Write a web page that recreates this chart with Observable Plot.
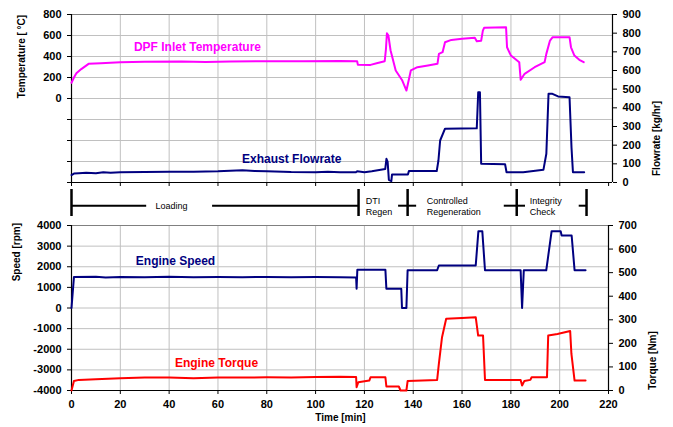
<!DOCTYPE html>
<html><head><meta charset="utf-8">
<script src="https://cdn.jsdelivr.net/npm/d3@7"></script>
<script src="https://cdn.jsdelivr.net/npm/@observablehq/plot@0.6"></script>
<style>
body{margin:0;background:#fff;font-family:"Liberation Sans",Arial,sans-serif;}
#chart{position:relative;width:673px;height:427px;overflow:hidden;background:#fff;}
#chart svg{position:absolute;left:0;overflow:visible;}
</style></head><body><div id="chart"></div>
<script>
// ---- data ----
const timeTicks = [0,20,40,60,80,100,120,140,160,180,200,220];
const tempTicks = [-800,-600,-400,-200,0,200,400,600,800];
const flowTicks = [0,100,200,300,400,500,600,700,800,900];
const speedTicks = [-4000,-3000,-2000,-1000,0,1000,2000,3000,4000];
const torqueTicks = [0,100,200,300,400,500,600,700];

// [time min, °C]
const dpfTemp = [[0,150],[1,200],[2,240],[4,280],[7,330],[12,335],[20,345],[30,350],[45,352],[55,348],[65,352],[80,355],[95,355],[110,358],[117,355],[117.3,322],[122.5,320],[125,335],[128.3,355],[128.8,470],[129.2,622],[129.8,600],[130.7,457],[132.8,267],[135.5,171],[137.2,76],[139,267],[141.7,298],[146,315],[149.9,330],[150.5,425],[152,441],[153,536],[155.6,558],[160,570],[165.2,578],[166,545],[167.8,550],[168.5,647],[169,673],[178,679],[178.4,488],[180,409],[183.4,346],[184,178],[185.6,235],[189.7,298],[193.8,346],[194.5,425],[196,552],[197.1,584],[204,584],[204.6,488],[206,409],[208,368],[209.8,346]];
// [time min, kg/hr]
const exhaustFlow = [[0,40],[1,48],[3,50],[6,52],[10,50],[13,55],[16,52],[20,55],[30,56],[40,57],[50,58],[60,60],[65,63],[70,65],[75,62],[80,60],[90,56],[100,55],[105,57],[110,55],[116.5,55],[117,60],[120,55],[123,60],[128.5,72],[129,127],[129.5,110],[130,14],[131,7],[131.3,43],[137.8,43],[138.2,61],[149.6,61],[150.3,118],[151,225],[153,288],[166,290],[166.6,484],[167.3,484],[167.8,100],[177.6,98],[178.2,55],[185,55],[193.3,68],[194.5,154],[195.4,475],[197,475],[199.3,461],[204,457],[204.8,189],[205.4,55],[210,55]];
// [time min, rpm]
const engineSpeed = [[0,0],[1,1500],[10,1510],[14,1480],[20,1500],[30,1490],[40,1510],[50,1495],[60,1500],[70,1490],[80,1505],[90,1495],[100,1500],[110,1490],[116.6,1480],[116.8,930],[117.1,1850],[128.6,1850],[129,930],[135.1,930],[135.4,0],[137.2,0],[137.7,1830],[149.8,1830],[150.5,2060],[165.6,2060],[166.7,3725],[168.3,3725],[169.4,1830],[184,1830],[184.6,0],[185.3,1830],[194.5,1830],[196.7,3725],[200.4,3725],[200.8,3516],[204.9,3516],[206.1,1830],[210.6,1830]];
// [time min, Nm]
const engineTorque = [[0,0],[1,40],[3,45],[10,48],[20,52],[30,55],[40,55],[50,52],[60,55],[70,55],[80,56],[90,55],[100,57],[110,58],[116.6,57],[116.8,14],[117.5,35],[122,42],[122.5,56],[128.6,56],[129,17],[134.1,17],[134.8,0],[137.2,0],[137.7,40],[149.8,45],[150.5,113],[151.8,226],[153.5,304],[160,308],[165.6,311],[166.6,233],[168.6,233],[169.4,45],[184,45],[184.6,21],[185.5,40],[188,45],[188.5,56],[194.8,56],[195.3,233],[199.1,240],[204.3,252],[204.8,156],[206.1,42],[210.6,42]];

// test phases
const phaseBounds = [0,117.6,137.7,182.4,211];
const phaseLines = [[0.4,30.8],[57.8,117.6],[134,141.4],[177.3,186],[208,211]];
const phaseLabels = [
  {t:41, text:"Loading", anchor:"middle"},
  {t:120.5, text:"DTI\nRegen", anchor:"start"},
  {t:145.5, text:"Controlled\nRegeneration", anchor:"start"},
  {t:187.7, text:"Integrity\nCheck", anchor:"start"}
];

// ---- helpers ----
const flowToTemp = f => -800 + f*1600/900;
const tempToFlow = v => Math.round((v+800)*900/1600);
const torqueToSpeed = q => -4000 + q*8000/700;
const speedToTorque = v => Math.round((v+4000)*700/8000);

const FONT = '"Liberation Sans", Arial, sans-serif';
const baseStyle = {fontFamily:FONT, fontSize:"11px", fontWeight:"bold", color:"#000", background:"transparent", overflow:"visible"};
const GRID = "#c0c0c0";
const chart = document.getElementById("chart");
function place(el, top){ el.style.top = top + "px"; chart.appendChild(el); }
const title = (s, anchor, yv, dx) => Plot.text([s], {text:d=>d, frameAnchor:anchor, y:()=>yv, dx, rotate:-90, textAnchor:"middle", lineAnchor:"middle", fontSize:10, fontWeight:"bold", fill:"#000"});
const seriesLabel = (s, xv, yv, color) => Plot.text([s], {text:d=>d, x:()=>xv, y:()=>yv, fill:color, fontSize:12, fontWeight:"bold"});

// ---- top panel ----
const topChart = Plot.plot({
  width:673, height:188, marginLeft:71, marginRight:61, marginTop:14, marginBottom:6,
  x:{domain:[0,221.6]}, y:{domain:[-800,800]},
  style:baseStyle,
  marks:[
    Plot.gridX(timeTicks.slice(1,11), {stroke:GRID, strokeOpacity:1}),
    Plot.gridY(tempTicks.slice(1,8), {stroke:GRID, strokeOpacity:1}),
    Plot.ruleY([800], {stroke:"#808080"}),
    Plot.axisX(timeTicks, {tickFormat:()=>"", tickSize:4, label:null}),
    Plot.axisY(tempTicks, {anchor:"left", tickFormat:d=> d>=0 ? String(d) : "", tickSize:4, tickPadding:6, label:null}),
    Plot.axisY(flowTicks.map(flowToTemp), {anchor:"right", tickFormat:d=>String(tempToFlow(d)), tickSize:4, tickPadding:6, label:null}),
    Plot.ruleY([-800], {stroke:"#000", strokeWidth:1.2}),
    Plot.ruleX([0], {stroke:"#000", strokeWidth:1.2}),
    Plot.ruleX([221.6], {stroke:"#000", strokeWidth:1.2}),
    Plot.line(dpfTemp, {x:d=>d[0], y:d=>d[1], stroke:"#ff00ff", strokeWidth:2}),
    Plot.line(exhaustFlow, {x:d=>d[0], y:d=>flowToTemp(d[1]), stroke:"#000080", strokeWidth:2}),
    seriesLabel("DPF Inlet Temperature", 51.6, 490, "#ff00ff"),
    seriesLabel("Exhaust Flowrate", 90.2, -581, "#000080"),
    title("Temperature [ °C]", "left", 400, -50),
    title("Flowrate [kg/hr]", "right", -381, 44)
  ]
});
place(topChart, 0);

// ---- phase annotation band ----
const band = Plot.plot({
  width:673, height:32, marginLeft:71, marginRight:65, marginTop:1, marginBottom:4,
  x:{domain:[0,220], axis:null}, y:{domain:[0,1], axis:null},
  style:{...baseStyle, fontWeight:"normal", fontSize:"9px"},
  marks:[
    Plot.ruleX(phaseBounds, {stroke:"#000", strokeWidth:2.5}),
    Plot.ruleY(phaseLines, {x1:d=>d[0], x2:d=>d[1], y:()=>0.4, stroke:"#000", strokeWidth:2}),
    Plot.text(phaseLabels.filter(d=>d.anchor==="middle"), {x:"t", y:()=>0.4, text:"text", textAnchor:"middle", fontSize:9, fontWeight:"normal", fill:"#000"}),
    Plot.text(phaseLabels.filter(d=>d.anchor==="start"), {x:"t", y:()=>0.4, text:"text", textAnchor:"start", lineHeight:1.3, fontSize:9, fontWeight:"normal", fill:"#000"})
  ]
});
place(band, 188);

// ---- bottom panel ----
const bottomChart = Plot.plot({
  width:673, height:207, marginLeft:71, marginRight:65, marginTop:5, marginBottom:37,
  x:{domain:[0,220]}, y:{domain:[-4000,4000]},
  style:baseStyle,
  marks:[
    Plot.gridX(timeTicks.slice(1,11), {stroke:GRID, strokeOpacity:1}),
    Plot.gridY(speedTicks.slice(1,8), {stroke:GRID, strokeOpacity:1}),
    Plot.ruleY([4000], {stroke:"#808080"}),
    Plot.axisX(timeTicks, {tickFormat:d=>String(d), tickSize:4, tickPadding:6, label:null}),
    Plot.axisY(speedTicks, {anchor:"left", tickFormat:d=>String(d), tickSize:4, tickPadding:6, label:null}),
    Plot.axisY(torqueTicks.map(torqueToSpeed), {anchor:"right", tickFormat:d=>String(speedToTorque(d)), tickSize:4, tickPadding:6, label:null}),
    Plot.ruleY([-4000], {stroke:"#000", strokeWidth:1.2}),
    Plot.ruleX([0], {stroke:"#000", strokeWidth:1.2}),
    Plot.ruleX([220], {stroke:"#000", strokeWidth:1.2}),
    Plot.line(engineSpeed, {x:d=>d[0], y:d=>d[1], stroke:"#000080", strokeWidth:2}),
    Plot.line(engineTorque, {x:d=>d[0], y:d=>torqueToSpeed(d[1]), stroke:"#ff0000", strokeWidth:2}),
    seriesLabel("Engine Speed", 42.6, 2250, "#000080"),
    seriesLabel("Engine Torque", 59.4, -2658, "#ff0000"),
    title("Speed [rpm]", "left", 2706, -55),
    title("Torque [Nm]", "right", -2546, 44),
    Plot.text(["Time [min]"], {text:d=>d, frameAnchor:"bottom", x:()=>110.2, dy:30, fontSize:10, fontWeight:"bold", fill:"#000"})
  ]
});
place(bottomChart, 220);
</script></body></html>
